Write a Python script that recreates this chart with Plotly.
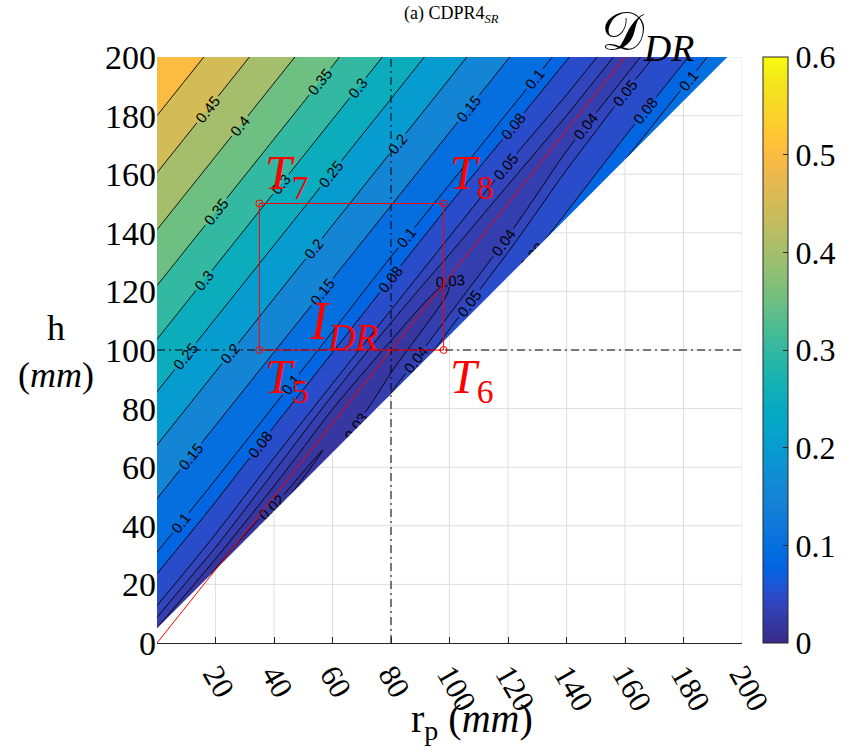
import numpy as np
import plotly.graph_objects as go

# ---------------- data ----------------
# Field D_DR sampled on a sheared grid: columns = rp (mm), rows = s = h - VALLEY_SLOPE*rp (mm)
RP_NODES = [0, 20, 40, 60, 80, 100, 120, 140, 160, 180, 200]
S_NODES = [-50, -42, -35, -29, -23, -18, -13, -9, -5, -2, 1, 4, 8, 12, 17, 22, 27,
           40.1, 58.4, 76.75, 94.75, 112.6, 131.4, 150.75, 170.25, 189.75, 209.5]
VALLEY_SLOPE = 1.25
D_TABLE = [
    [0.128, 0.128, 0.128, 0.128, 0.128, 0.128, 0.135, 0.136, 0.138, 0.138, 0.138],
    [0.108, 0.108, 0.108, 0.108, 0.108, 0.108, 0.115, 0.116, 0.118, 0.118, 0.118],
    [0.090, 0.090, 0.090, 0.090, 0.090, 0.090, 0.097, 0.0985, 0.0995, 0.0995, 0.0995],
    [0.075, 0.075, 0.075, 0.075, 0.075, 0.075, 0.081, 0.0825, 0.0845, 0.0845, 0.0845],
    [0.058, 0.055, 0.055, 0.055, 0.055, 0.060, 0.066, 0.068, 0.0705, 0.0705, 0.0705],
    [0.045, 0.040, 0.040, 0.042, 0.045, 0.0502, 0.0525, 0.058, 0.061, 0.061, 0.061],
    [0.034, 0.030, 0.028, 0.0302, 0.0375, 0.0402, 0.043, 0.049, 0.0515, 0.0515, 0.0515],
    [0.026, 0.022, 0.021, 0.0215, 0.032, 0.034, 0.0365, 0.0428, 0.0435, 0.0435, 0.0435],
    [0.021, 0.017, 0.019, 0.0202, 0.0255, 0.0302, 0.033, 0.0368, 0.0375, 0.0375, 0.0375],
    [0.019, 0.016, 0.0205, 0.0212, 0.0245, 0.0298, 0.032, 0.0343, 0.0345, 0.0345, 0.0345],
    [0.022, 0.021, 0.024, 0.024, 0.027, 0.031, 0.0335, 0.035, 0.035, 0.035, 0.035],
    [0.027, 0.031, 0.031, 0.0285, 0.031, 0.0345, 0.0365, 0.0385, 0.0385, 0.0385, 0.0385],
    [0.038, 0.041, 0.039, 0.036, 0.037, 0.0405, 0.0425, 0.0445, 0.0445, 0.0445, 0.0445],
    [0.048, 0.0495, 0.047, 0.046, 0.046, 0.046, 0.046, 0.0498, 0.0505, 0.0505, 0.0505],
    [0.0615, 0.063, 0.060, 0.059, 0.058, 0.058, 0.059, 0.0615, 0.0615, 0.0615, 0.0615],
    [0.0755, 0.077, 0.0745, 0.074, 0.075, 0.072, 0.0735, 0.075, 0.075, 0.075, 0.075],
    [0.089, 0.090, 0.089, 0.088, 0.085, 0.087, 0.088, 0.089, 0.089, 0.089, 0.089],
    [0.125, 0.125, 0.125, 0.125, 0.125, 0.125, 0.125, 0.125, 0.125, 0.125, 0.125],
    [0.175, 0.175, 0.175, 0.175, 0.175, 0.175, 0.175, 0.175, 0.175, 0.175, 0.175],
    [0.225, 0.225, 0.225, 0.225, 0.225, 0.225, 0.225, 0.225, 0.225, 0.225, 0.225],
    [0.275, 0.275, 0.275, 0.275, 0.275, 0.275, 0.275, 0.275, 0.275, 0.275, 0.275],
    [0.325, 0.325, 0.325, 0.325, 0.325, 0.325, 0.325, 0.325, 0.325, 0.325, 0.325],
    [0.375, 0.375, 0.375, 0.375, 0.375, 0.375, 0.375, 0.375, 0.375, 0.375, 0.375],
    [0.425, 0.425, 0.425, 0.425, 0.425, 0.425, 0.425, 0.425, 0.425, 0.425, 0.425],
    [0.475, 0.475, 0.475, 0.475, 0.475, 0.475, 0.475, 0.475, 0.475, 0.475, 0.475],
    [0.525, 0.525, 0.525, 0.525, 0.525, 0.525, 0.525, 0.525, 0.525, 0.525, 0.525],
    [0.575, 0.575, 0.575, 0.575, 0.575, 0.575, 0.575, 0.575, 0.575, 0.575, 0.575],
]
FILL_LEVELS = [0.02, 0.03, 0.04, 0.05, 0.08, 0.1, 0.15, 0.2, 0.25, 0.3, 0.35, 0.4, 0.45, 0.5]
# labelled contour lines: (first level, last level, step)
LINE_GROUPS = [(0.02, 0.04, 0.01), (0.08, 0.08, 0.08), (0.05, 0.5, 0.05)]
CLIM = [0.0, 0.6]
CB_TICKS = [0, 0.1, 0.2, 0.3, 0.4, 0.5, 0.6]
X_TICKS = [20, 40, 60, 80, 100, 120, 140, 160, 180, 200]
Y_TICKS = [0, 20, 40, 60, 80, 100, 120, 140, 160, 180, 200]
AX_RANGE = [0, 200]
BOUNDARY_RP = [0, 195]
BOUNDARY_H = [5, 200]
DIAG_RP = [0, 160]
DIAG_H = [0, 200]
RECT_RP = [35, 98, 98, 35, 35]
RECT_H = [100, 100, 150, 150, 100]
CORNER_RP = [35, 98, 35, 98]
CORNER_H = [100, 100, 150, 150]
CORNER_NAMES = ["5", "6", "7", "8"]
CROSS_RP = 80
CROSS_H = 100

PARULA = [
    (0.2081, 0.1663, 0.5292), (0.2116, 0.1898, 0.5777), (0.2123, 0.2138, 0.6270), (0.2081, 0.2386, 0.6771),
    (0.1959, 0.2645, 0.7279), (0.1707, 0.2919, 0.7792), (0.1253, 0.3242, 0.8303), (0.0591, 0.3598, 0.8683),
    (0.0117, 0.3875, 0.8820), (0.0060, 0.4086, 0.8828), (0.0165, 0.4266, 0.8786), (0.0329, 0.4430, 0.8720),
    (0.0498, 0.4586, 0.8641), (0.0629, 0.4737, 0.8554), (0.0723, 0.4887, 0.8467), (0.0779, 0.5040, 0.8384),
    (0.0793, 0.5200, 0.8312), (0.0749, 0.5375, 0.8263), (0.0641, 0.5570, 0.8240), (0.0488, 0.5772, 0.8228),
    (0.0343, 0.5966, 0.8199), (0.0265, 0.6137, 0.8135), (0.0239, 0.6287, 0.8038), (0.0231, 0.6418, 0.7913),
    (0.0228, 0.6535, 0.7768), (0.0267, 0.6642, 0.7607), (0.0384, 0.6743, 0.7436), (0.0590, 0.6838, 0.7254),
    (0.0843, 0.6928, 0.7062), (0.1133, 0.7015, 0.6859), (0.1453, 0.7098, 0.6646), (0.1801, 0.7177, 0.6424),
    (0.2178, 0.7250, 0.6193), (0.2586, 0.7317, 0.5954), (0.3022, 0.7376, 0.5712), (0.3482, 0.7424, 0.5473),
    (0.3953, 0.7459, 0.5244), (0.4420, 0.7481, 0.5033), (0.4871, 0.7491, 0.4840), (0.5300, 0.7491, 0.4661),
    (0.5709, 0.7485, 0.4494), (0.6099, 0.7473, 0.4337), (0.6473, 0.7456, 0.4188), (0.6834, 0.7435, 0.4044),
    (0.7184, 0.7411, 0.3905), (0.7525, 0.7384, 0.3768), (0.7858, 0.7356, 0.3633), (0.8185, 0.7327, 0.3498),
    (0.8507, 0.7299, 0.3360), (0.8824, 0.7274, 0.3217), (0.9139, 0.7258, 0.3063), (0.9450, 0.7261, 0.2886),
    (0.9739, 0.7314, 0.2666), (0.9938, 0.7455, 0.2403), (0.9990, 0.7653, 0.2164), (0.9955, 0.7861, 0.1967),
    (0.9880, 0.8066, 0.1794), (0.9789, 0.8271, 0.1633), (0.9697, 0.8481, 0.1475), (0.9626, 0.8705, 0.1309),
    (0.9589, 0.8949, 0.1132), (0.9598, 0.9218, 0.0948), (0.9661, 0.9514, 0.0755), (0.9763, 0.9831, 0.0538),
]


def rgb(c):
    return "rgb(%d,%d,%d)" % tuple(int(round(255 * v)) for v in c)


def parula_at(value):
    t = (value - CLIM[0]) / (CLIM[1] - CLIM[0])
    t = min(max(t, 0.0), 1.0) * (len(PARULA) - 1)
    i = min(int(np.floor(t)), len(PARULA) - 2)
    f = t - i
    c = [PARULA[i][k] * (1 - f) + PARULA[i + 1][k] * f for k in range(3)]
    return rgb(c)


PARULA_SCALE = [[i / (len(PARULA) - 1), rgb(c)] for i, c in enumerate(PARULA)]

A = np.array(RP_NODES, dtype=float)
B = np.array(S_NODES, dtype=float)
Z = np.array(D_TABLE, dtype=float)
X2 = np.tile(A, (len(B), 1))
Y2 = B[:, None] + VALLEY_SLOPE * A[None, :]

SERIF = "Liberation Serif"
fig = go.Figure()

axis_off = dict(showgrid=False, showline=False, showticklabels="none", startline=False,
                endline=False, minorgridcount=0, smoothing=0, gridwidth=0, linewidth=0)
fig.add_trace(go.Carpet(a=A, b=B, x=X2, y=Y2, carpet="c1", aaxis=axis_off, baxis=axis_off))

# filled bands (lower-bound colour, as in contourf); in contourcarpet the shaded side
# of a constraint is the one that violates it, so "<" shades z >= level
fig.add_trace(go.Contourcarpet(carpet="c1", a=A, b=B, z=Z, autocontour=False,
                               contours=dict(type="constraint", operation="<", value=-1.0, showlines=False),
                               fillcolor=parula_at(float(Z.min())), line=dict(width=0), showscale=False))
for lv in FILL_LEVELS:
    fig.add_trace(go.Contourcarpet(carpet="c1", a=A, b=B, z=Z, autocontour=False,
                                   contours=dict(type="constraint", operation="<", value=lv, showlines=False),
                                   fillcolor=parula_at(lv), line=dict(width=0), showscale=False))

# contour lines with labels.  Empty levels below the data minimum are added to each group
# only so that plotly spaces the labels more densely along each line (as MATLAB clabel does).
N_LEVELS_FOR_LABEL_SPACING = [80, 80, 110]
for (st, en, sz), nlev in zip(LINE_GROUPS, N_LEVELS_FOR_LABEL_SPACING):
    n_real = int(round((en - st) / sz)) + 1
    start = st - sz * (nlev - n_real)
    fig.add_trace(go.Contourcarpet(carpet="c1", a=A, b=B, z=Z, autocontour=False,
                                   contours=dict(start=start, end=en + sz * 0.01, size=sz, coloring="none",
                                                 showlabels=True, labelformat=".2~f",
                                                 labelfont=dict(size=15, color="black", family="Liberation Sans")),
                                   line=dict(color="black", width=0.9), showscale=False))

# white mask outside the feasible region (below the boundary line)
off = BOUNDARY_H[0] - BOUNDARY_RP[0]
lo, hi = AX_RANGE[0] - 20, AX_RANGE[1] + 20
fig.add_trace(go.Scatter(x=[lo, hi, hi, lo, lo], y=[lo + off, hi + off, lo, lo, lo + off],
                         fill="toself", fillcolor="white", line=dict(width=0), mode="lines",
                         hoverinfo="skip", showlegend=False))

# grid lines visible only in the white region
gx, gy = [], []
for xt in X_TICKS:
    gx += [xt, xt, None]
    gy += [AX_RANGE[0], min(xt + off, AX_RANGE[1]), None]
for yt in Y_TICKS[1:]:
    gx += [max(yt - off, AX_RANGE[0]), AX_RANGE[1], None]
    gy += [yt, yt, None]
fig.add_trace(go.Scatter(x=gx, y=gy, mode="lines", line=dict(color="#dfdfdf", width=1),
                         hoverinfo="skip", showlegend=False))

# dash-dot cross lines
dash = "8px,4px,2px,4px"
fig.add_trace(go.Scatter(x=[CROSS_RP, CROSS_RP], y=AX_RANGE, mode="lines",
                         line=dict(color="black", width=1, dash=dash), showlegend=False))
fig.add_trace(go.Scatter(x=AX_RANGE, y=[CROSS_H, CROSS_H], mode="lines",
                         line=dict(color="black", width=1, dash=dash), showlegend=False))

# red diagonal and rectangle
fig.add_trace(go.Scatter(x=DIAG_RP, y=DIAG_H, mode="lines", line=dict(color="red", width=1), showlegend=False))
fig.add_trace(go.Scatter(x=RECT_RP, y=RECT_H, mode="lines", line=dict(color="red", width=1), showlegend=False))
fig.add_trace(go.Scatter(x=CORNER_RP, y=CORNER_H, mode="markers",
                         marker=dict(symbol="circle-open", size=7, color="red", line=dict(width=1)),
                         showlegend=False))

# colour bar
fig.add_trace(go.Scatter(x=[CROSS_RP], y=[CROSS_H], mode="markers",
                         marker=dict(size=1, opacity=0, color=[CLIM[0]], cmin=CLIM[0], cmax=CLIM[1],
                                     colorscale=PARULA_SCALE, showscale=True,
                                     colorbar=dict(thickness=25, len=1, lenmode="fraction", x=1.0357,
                                                   xanchor="left", xpad=0, y=0.5, yanchor="middle", ypad=0,
                                                   outlinewidth=1, outlinecolor="#262626",
                                                   tickvals=CB_TICKS, ticktext=[("%g" % v) for v in CB_TICKS],
                                                   ticks="inside", ticklen=5, tickcolor="#262626",
                                                   tickfont=dict(family=SERIF, size=32, color="black"))),
                         hoverinfo="skip", showlegend=False))

# corner labels
ann = []
for rp, h, nm in zip(CORNER_RP, CORNER_H, CORNER_NAMES):
    top = h > CROSS_H
    ann.append(dict(x=rp, y=h, xref="x", yref="y", text="<i>T</i><sub>%s</sub>" % nm, showarrow=False,
                    xanchor="left", yanchor="bottom" if top else "top", xshift=4, yshift=-4 if top else 2,
                    font=dict(family=SERIF, size=48, color="red")))
ann.append(dict(x=RECT_RP[0], y=CROSS_H, xref="x", yref="y", text="<i>I</i><sub><i>DR</i></sub>",
                showarrow=False, xanchor="left", yanchor="bottom", xshift=48, yshift=-10,
                font=dict(family=SERIF, size=54, color="red")))
ann.append(dict(x=0.755, y=1.037, xref="paper", yref="paper", text="𝒟<sub><i>DR</i></sub>",
                showarrow=False, xanchor="left", yanchor="middle", font=dict(family=SERIF, size=54, color="black")))
ann.append(dict(x=0.503, y=1.073, xref="paper", yref="paper", text="(a) CDPR4<sub><i>SR</i></sub>",
                showarrow=False, xanchor="center", yanchor="middle", font=dict(family=SERIF, size=18, color="black")))
ann.append(dict(x=0.539, y=-0.133, xref="paper", yref="paper", text="r<sub>p</sub> (<i>mm</i>)",
                showarrow=False, xanchor="center", yanchor="middle", font=dict(family=SERIF, size=40, color="black")))
ann.append(dict(x=-0.1735, y=0.497, xref="paper", yref="paper", text="h<br>(<i>mm</i>)",
                showarrow=False, xanchor="center", yanchor="middle", font=dict(family=SERIF, size=36, color="black")))

fig.update_layout(
    width=853, height=753, margin=dict(l=157, r=108, t=57, b=110),
    paper_bgcolor="white", plot_bgcolor="white", showlegend=False,
    annotations=ann,
    xaxis=dict(range=AX_RANGE, tickvals=X_TICKS, ticktext=[str(v) for v in X_TICKS], tickangle=60,
               showgrid=False, zeroline=False, showline=True, linecolor="#262626", linewidth=1,
               ticks="inside", ticklen=6, tickcolor="#262626",
               tickfont=dict(family=SERIF, size=31, color="black")),
    yaxis=dict(range=AX_RANGE, tickvals=Y_TICKS, ticktext=[str(v) for v in Y_TICKS],
               showgrid=False, zeroline=False, showline=False, ticks="",
               tickfont=dict(family=SERIF, size=34, color="black")),
)

fig.write_html("out.html")
